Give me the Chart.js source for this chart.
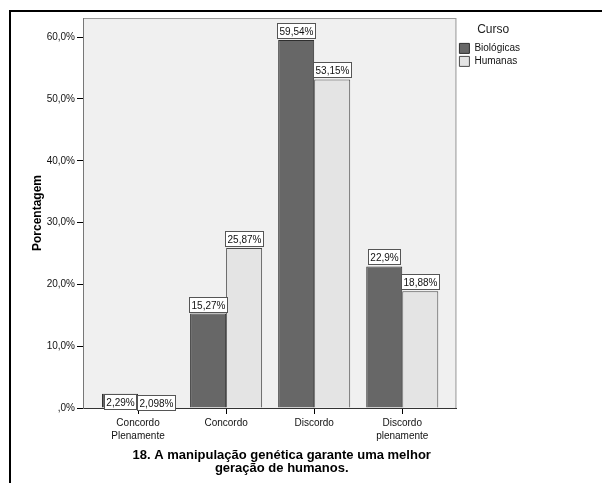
<!DOCTYPE html>
<html>
<head>
<meta charset="utf-8">
<script src="https://cdn.jsdelivr.net/npm/chart.js@4.4.0/dist/chart.umd.min.js"></script>
<style>
html, body { margin: 0; padding: 0; background: #fff; }
</style>
</head>
<body>
<canvas id="grafico" width="602" height="483"></canvas>
<script>
// Categorias e percentuais por curso
const categorias = [["Concordo", "Plenamente"], "Concordo", "Discordo", ["Discordo", "plenamente"]];
const biologicas = [2.29, 15.27, 59.54, 22.9];
const humanas = [2.098, 25.87, 53.15, 18.88];
const tituloX = ["18. A manipulação genética garante uma melhor", "geração de humanos."];
const fonte = "'Liberation Sans', Arial, sans-serif";

// formato SPSS: ",0%" para zero e virgula decimal
function formataEixo(v) {
	if (v === 0) return ",0%";
	return v.toFixed(1).replace(".", ",") + "%";
}

// fundo da area do grafico e moldura
const fundo = {
	id: "fundo",
	beforeDraw(chart) {
		const { ctx, chartArea: a } = chart;
		ctx.save();
		ctx.fillStyle = "#fff";
		ctx.fillRect(0, 0, chart.width, chart.height);
		ctx.fillStyle = "#000";
		ctx.fillRect(9, 10, 2, chart.height - 10);
		ctx.fillRect(9, 10, chart.width - 9, 2);
		ctx.fillStyle = "#f0f0f0";
		ctx.fillRect(a.left, a.top, a.right - a.left, a.bottom - a.top);
		ctx.strokeStyle = "#9a9a9a";
		ctx.lineWidth = 1;
		ctx.strokeRect(a.left + 0.5, a.top + 0.5, a.right - a.left - 1, a.bottom - a.top);
		ctx.restore();
	}
};

// caixinhas com o valor em cima de cada barra
const rotulos = {
	id: "rotulos",
	afterDatasetsDraw(chart) {
		const ctx = chart.ctx;
		const valores = [biologicas, humanas];
		ctx.save();
		ctx.font = "10px " + fonte;
		ctx.textAlign = "center";
		ctx.textBaseline = "middle";
		chart.data.datasets.forEach((ds, i) => {
			chart.getDatasetMeta(i).data.forEach((bar, j) => {
				const texto = String(valores[i][j]).replace(".", ",") + "%";
				const w = Math.round(ctx.measureText(texto).width) + 5;
				const h = 16;
				const topo = (bar.base - bar.y) < h ? Math.round(bar.y) : Math.round(bar.y) - h - 1;
				const x0 = Math.round(bar.x - w / 2);
				ctx.fillStyle = "#fff";
				ctx.fillRect(x0, topo, w, h);
				ctx.strokeStyle = "#555";
				ctx.lineWidth = 1;
				ctx.strokeRect(x0 + 0.5, topo + 0.5, w - 1, h - 1);
				ctx.fillStyle = "#111";
				ctx.fillText(texto, x0 + w / 2, topo + h / 2 + 1);
			});
		});
		ctx.restore();
	}
};

// titulo do eixo x em duas linhas
const tituloEixo = {
	id: "tituloEixo",
	afterDraw(chart) {
		const { ctx, chartArea: a } = chart;
		ctx.save();
		ctx.font = "bold 13px " + fonte;
		ctx.fillStyle = "#000";
		ctx.textAlign = "center";
		ctx.textBaseline = "alphabetic";
		const cx = (a.left + a.right) / 2 + 12;
		tituloX.forEach((linha, i) => ctx.fillText(linha, cx, a.bottom + 51 + i * 13));
		ctx.restore();
	}
};

new Chart(document.getElementById("grafico"), {
	type: "bar",
	data: {
		datasets: [
			{
				label: "Biológicas",
				data: biologicas.map((v, i) => ({ x: i, y: v })),
				backgroundColor: "#676767",
				borderColor: "#2e2e2e",
				borderWidth: 1,
				categoryPercentage: 0.818,
				barPercentage: 1
			},
			{
				label: "Humanas",
				data: humanas.map((v, i) => ({ x: i, y: v })),
				backgroundColor: "#e4e4e4",
				borderColor: "#4a4a4a",
				borderWidth: 1,
				categoryPercentage: 0.818,
				barPercentage: 1
			}
		]
	},
	options: {
		responsive: false,
		animation: false,
		layout: { padding: { left: 0, top: 18, right: 72, bottom: 0 } },
		plugins: {
			legend: {
				position: "right",
				align: "start",
				title: {
					display: true,
					text: "Curso",
					color: "#222",
					font: { family: fonte, size: 12 },
					padding: { top: 6, bottom: 2 }
				},
				labels: {
					boxWidth: 10,
					boxHeight: 10,
					padding: 3,
					color: "#111",
					font: { family: fonte, size: 10 }
				}
			},
			tooltip: { enabled: false }
		},
		scales: {
			x: {
				type: "linear",
				min: -0.625,
				max: 3.615,
				offset: false,
				afterFit: s => { s.height = 75; },
				border: { color: "#333" },
				grid: { offset: false, drawOnChartArea: false, tickLength: 6, tickColor: "#000" },
				ticks: {
					stepSize: 1,
					includeBounds: false,
					autoSkip: false,
					maxRotation: 0,
					padding: 3,
					color: "#111",
					font: { family: fonte, size: 10, lineHeight: 1.25 },
					callback: v => categorias[v] ?? ""
				}
			},
			y: {
				min: 0,
				max: 63.1,
				afterFit: s => { s.width = 83; },
				border: { color: "#777" },
				grid: { drawOnChartArea: false, tickLength: 6, tickColor: "#000" },
				ticks: {
					stepSize: 10,
					includeBounds: false,
					padding: 2,
					color: "#111",
					font: { family: fonte, size: 10 },
					callback: formataEixo
				},
				title: {
					display: true,
					text: "Porcentagem",
					color: "#000",
					font: { family: fonte, size: 12, weight: "bold" },
					padding: { top: 30 }
				}
			}
		}
	},
	plugins: [fundo, rotulos, tituloEixo]
});
</script>
</body>
</html>
